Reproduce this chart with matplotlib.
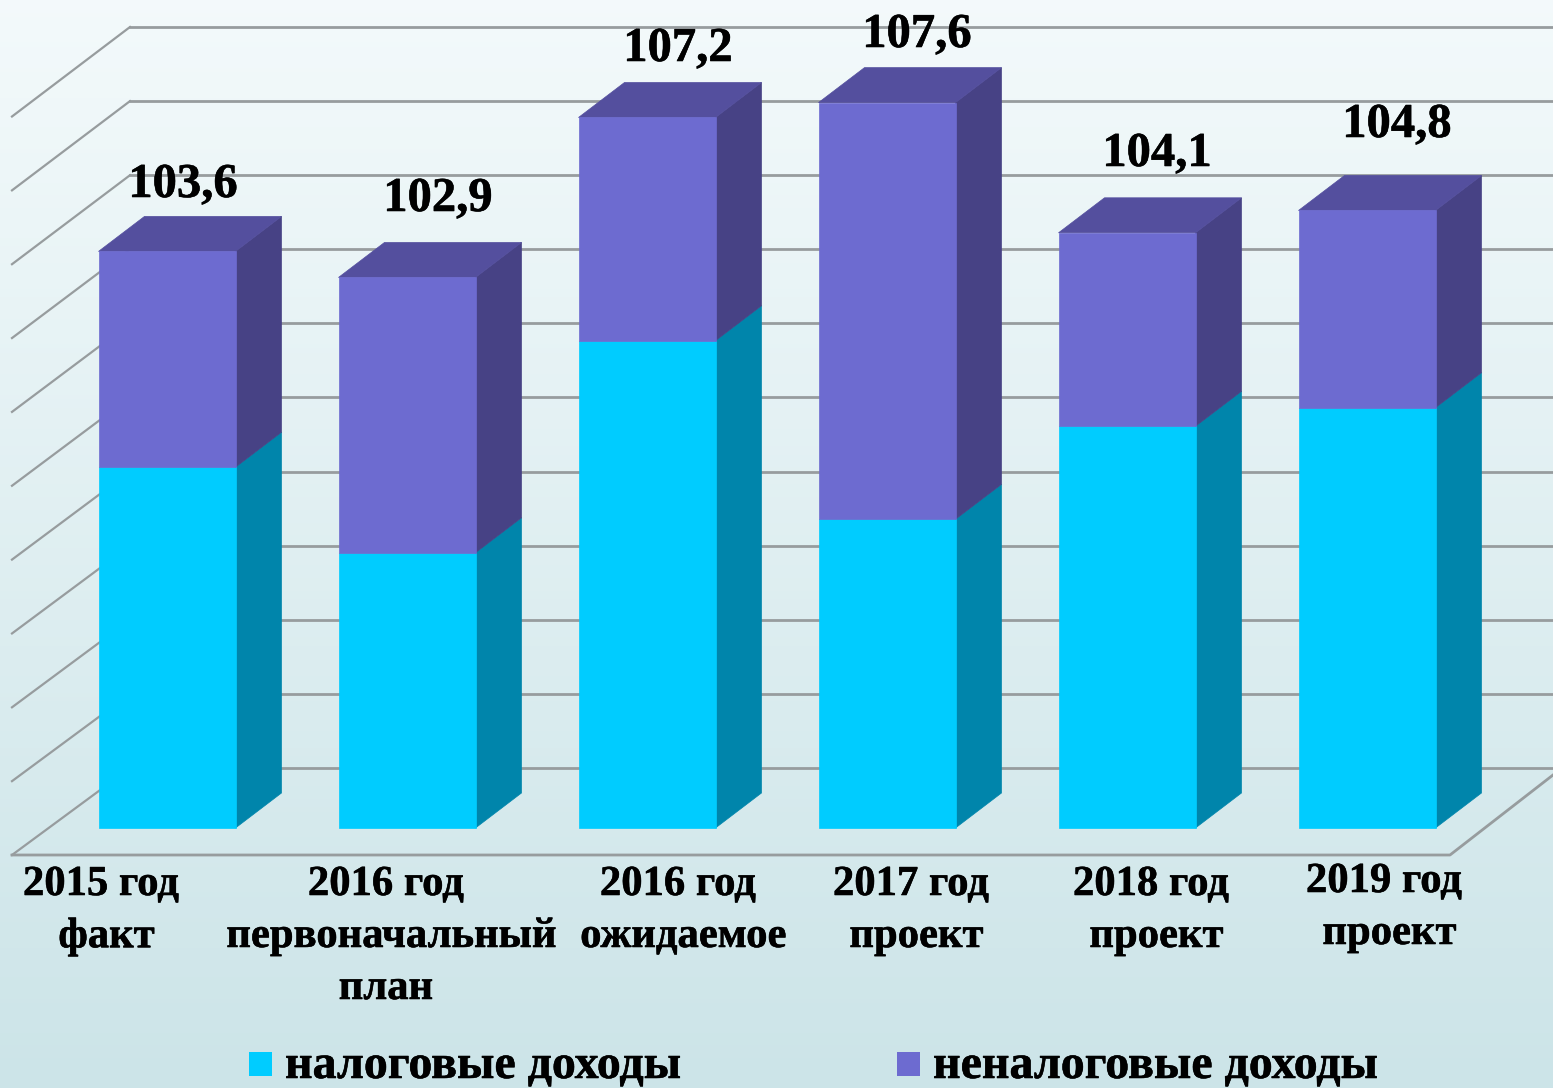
import numpy as np
from matplotlib import pyplot as plt
from matplotlib import patheffects as pe
from matplotlib.patches import Polygon, Rectangle

# Data
categories = ['2015 год\nфакт', '2016 год\nпервоначальный\nплан', '2016 год\nожидаемое',
              '2017 год\nпроект', '2018 год\nпроект', '2019 год\nпроект']
tax = [97.8, 95.5, 101.2, 96.4, 98.9, 99.4]
nontax = [5.8, 7.4, 6.0, 11.2, 5.2, 5.3]
totals = ['103,6', '102,9', '107,2', '107,6', '104,1', '104,8']
grid_levels = [0, 1, 2, 3, 4, 5, 6, 7, 8, 9, 10]
legend_names = ['налоговые доходы', 'неналоговые доходы']

# Layout in pixels
W, H = 1553, 1088
x_step = 240.0
x_first = 167.0
y_unit = 37.2
y_base = 828.0
v_base = 88.1


def xd(px):
    return (px - x_first) / x_step


def yd(py):
    return v_base + (y_base - py) / y_unit


bar_w = 137 / x_step
dx = 46 / x_step
dy = 35 / y_unit

fig = plt.figure(figsize=(W / 100, H / 100), dpi=100)
ax = fig.add_axes([0, 0, 1, 1])
ax.set_xlim(xd(0), xd(W))
ax.set_ylim(yd(H), yd(0))
ax.axis('off')

# Background gradient
top = np.array([0.955, 0.98, 0.985])
bottom = np.array([0.80, 0.895, 0.91])
t = np.linspace(0, 1, 256)[:, None, None]
grad = top + (bottom - top) * t
ax.imshow(grad, extent=[xd(0), xd(W), yd(H), yd(0)], aspect='auto', origin='upper', zorder=0)

# Walls and floor
grid_col = '#979c9e'
for k in grid_levels:
    y_front = yd(855 - 73.85 * k)
    y_back = yd(768 - 74.1 * k)
    ax.plot([xd(12), xd(130)], [y_front, y_back], color=grid_col, lw=1.6, zorder=1)
    ax.plot([xd(130), xd(W)], [y_back, y_back], color=grid_col, lw=2.0, zorder=1)
ax.plot([xd(12), xd(1450), xd(W)], [yd(855), yd(855), yd(775)], color=grid_col, lw=2.0, zorder=1)


def box(x, v0, v1, front, side, top_col=None):
    xl, xr = x - bar_w / 2, x + bar_w / 2
    ax.add_patch(Polygon([(xr, v0), (xr + dx, v0 + dy), (xr + dx, v1 + dy), (xr, v1)],
                         fc=side, ec=side, lw=0.5, zorder=3))
    ax.add_patch(Rectangle((xl, v0), bar_w, v1 - v0, fc=front, ec=front, lw=0.5, zorder=4))
    if top_col:
        ax.add_patch(Polygon([(xl, v1), (xl + dx, v1 + dy), (xr + dx, v1 + dy), (xr, v1)],
                             fc=top_col, ec=top_col, lw=0.5, zorder=3))


for i in range(len(categories)):
    box(i, v_base, tax[i], '#00ccff', '#0085ab')
    box(i, tax[i], tax[i] + nontax[i], '#6d6bd0', '#474285', '#544f9e')

# Text, with a thin stroke since the original looks heavier than the font
serif = 'Liberation Serif'
heavy = [pe.withStroke(linewidth=0.4, foreground='black')]
label_x = [183, 438, 678, 917, 1157, 1397]
label_y = [185, 199, 49, 35, 154, 125]
for i, s in enumerate(totals):
    ax.text(xd(label_x[i]), yd(label_y[i]), s, family=serif, weight='bold', fontsize=35,
            ha='center', va='center', color='black', zorder=6, path_effects=heavy)

cat_x = [101, 386, 678, 911, 1151, 1384]
cat_y = [885, 885, 885, 885, 885, 882]
line_shift = [0, 5.5, 0]
for i, s in enumerate(categories):
    for j, line in enumerate(s.split('\n')):
        ax.text(xd(cat_x[i] + line_shift[j]), yd(cat_y[i] + 52 * j), line, family=serif, weight='bold',
                fontsize=30.7, ha='center', va='center', color='black', zorder=6, path_effects=heavy)

leg_x = [249, 897]
for lx, name, col in zip(leg_x, legend_names, ['#00ccff', '#6d6bd0']):
    ax.add_patch(Rectangle((xd(lx), yd(1076)), 23 / x_step, 24 / y_unit, fc=col, ec='none', zorder=6))
    ax.text(xd(lx + 36), yd(1066), name, family=serif, weight='bold', fontsize=34.5,
            ha='left', va='center', color='black', zorder=6, path_effects=heavy)

plt.savefig('out.png', dpi=100)
